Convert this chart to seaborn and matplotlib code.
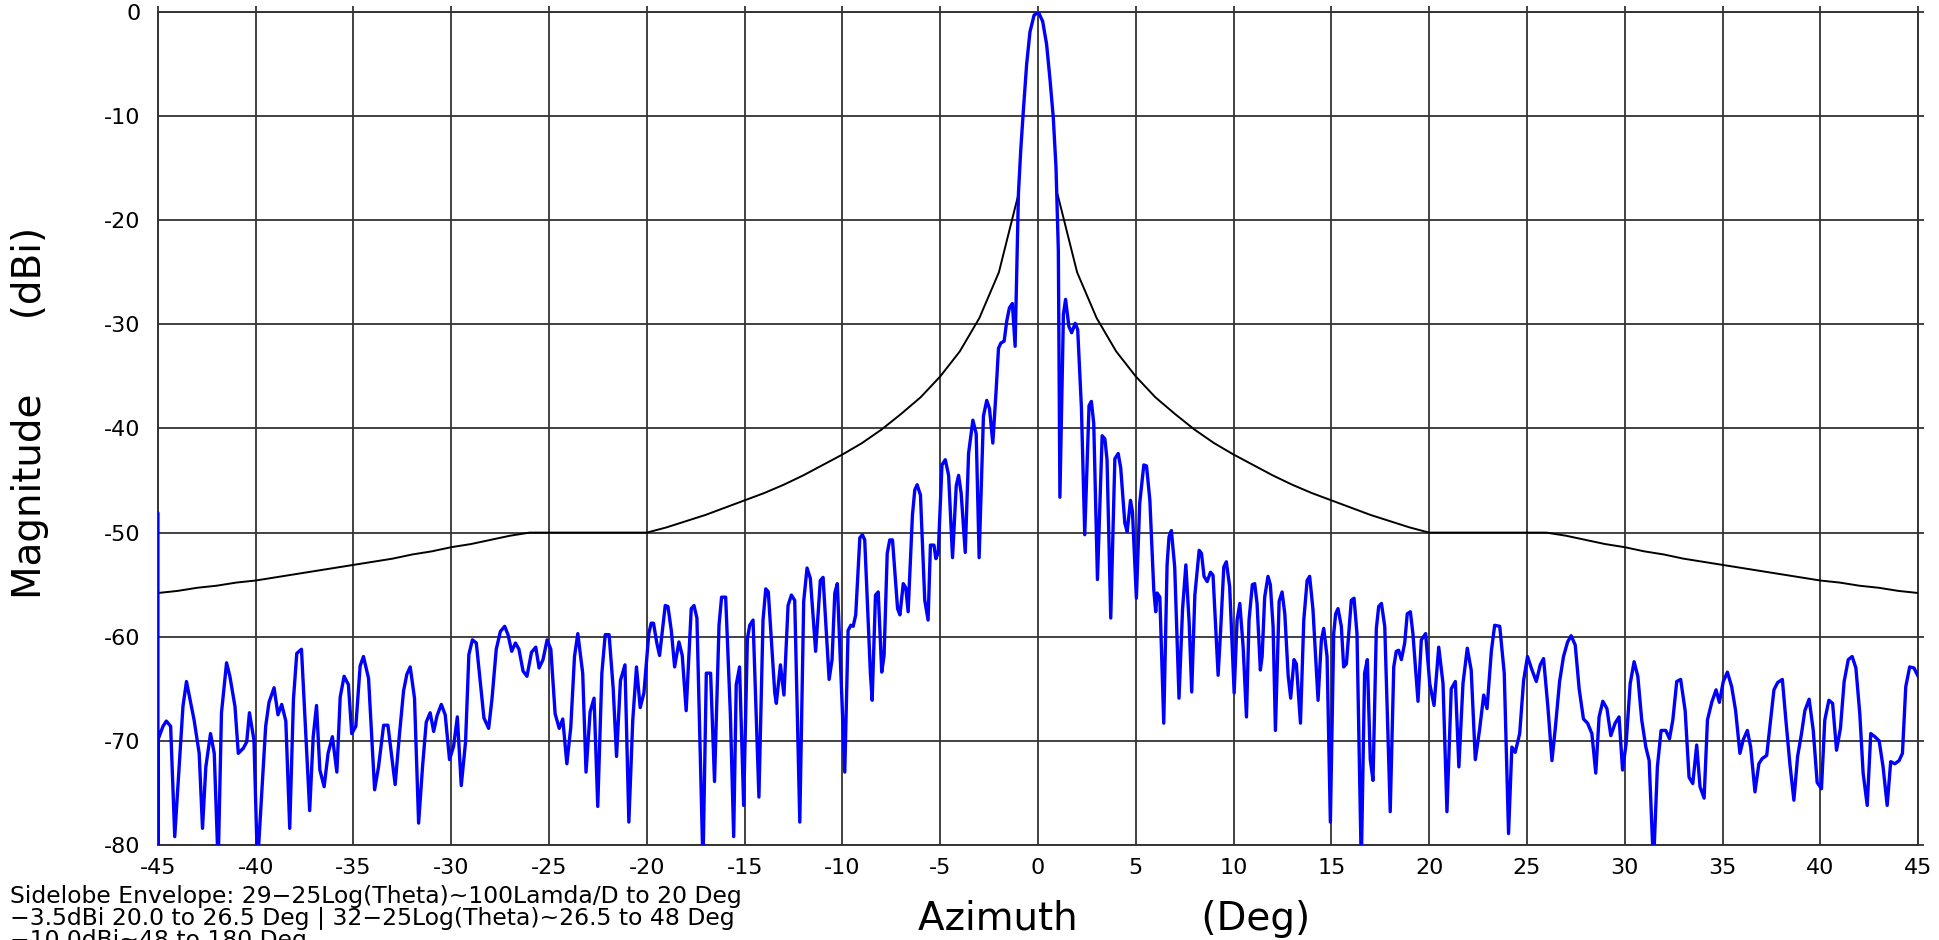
import pandas as pd
import matplotlib
matplotlib.use("Agg")
import matplotlib.pyplot as plt
import seaborn as sns

az_left = [
    -45.0, -45.0, -45.0, -44.74, -44.57, -44.35, -44.14, -43.72, -43.54, -43.15,
    -42.89, -42.72, -42.55, -42.31, -42.12, -41.92, -41.75, -41.49, -41.32, -41.06,
    -40.89, -40.63, -40.46, -40.32, -40.09, -39.91,
    -39.49, -39.32, -39.06, -38.86, -38.67, -38.46, -38.26, -38.07, -37.90, -37.66,
    -37.44, -37.24, -37.06, -36.89, -36.72, -36.50, -36.30, -36.08, -35.85, -35.68,
    -35.48, -35.26, -35.09, -34.88,
    -34.66, -34.49, -34.23, -33.92, -33.72, -33.46, -33.24, -32.87, -32.66, -32.44,
    -32.27, -32.10, -31.88, -31.67, -31.47, -31.28, -31.08, -30.90, -30.73, -30.51,
    -30.31, -30.09,
    -29.88, -29.69, -29.49, -29.27, -29.10, -28.92, -28.72, -28.33, -28.09, -27.92,
    -27.70, -27.49, -27.27, -27.10, -26.91, -26.72, -26.54, -26.33, -26.13, -25.90,
    -25.68, -25.51, -25.31, -25.10, -24.91,
    -24.69, -24.48, -24.30, -24.09, -23.89, -23.70, -23.53, -23.28, -23.11, -22.90,
    -22.70, -22.51, -22.30, -22.13, -21.93, -21.72, -21.55, -21.35, -21.12, -20.92,
    -20.72, -20.53, -20.34, -20.15,
    -19.90, -19.78, -19.66, -19.49, -19.35, -19.06, -18.92, -18.75, -18.58, -18.36,
    -18.19, -17.99, -17.73, -17.59, -17.44, -17.13, -16.96, -16.74, -16.54, -16.31,
    -16.18, -15.97, -15.73, -15.56, -15.43, -15.26, -15.05, -14.86, -14.74, -14.57,
    -14.27, -14.06, -13.92, -13.79, -13.46, -13.38, -13.17, -12.99, -12.78, -12.61,
    -12.44, -12.18, -11.98, -11.81, -11.64, -11.37, -11.13, -10.99, -10.68, -10.53,
    -10.39, -10.26, -9.88, -9.71, -9.57, -9.45, -9.32, -9.11, -8.98, -8.86,
    -8.57, -8.48, -8.31, -8.17, -7.99, -7.87, -7.71, -7.58, -7.44, -7.18,
    -7.06, -6.89, -6.76, -6.64, -6.42, -6.30, -6.18, -6.01, -5.79, -5.62,
    -5.50, -5.32, -5.22, -5.10,
]
mag_left = [
    -48.1, -82.0, -69.9, -68.6, -68.1, -68.6, -79.2, -66.7, -64.3, -68.0,
    -71.2, -78.4, -72.5, -69.3, -71.2, -82.0, -67.3, -62.5, -63.8, -66.7,
    -71.2, -70.7, -70.1, -67.3, -69.9, -82.0,
    -68.6, -66.3, -64.9, -67.5, -66.5, -68.1, -78.4, -66.0, -61.6, -61.2,
    -69.3, -76.7, -69.6, -66.6, -72.8, -74.4, -71.2, -69.6, -73.0, -65.8,
    -63.8, -64.6, -69.3, -68.6,
    -62.8, -61.9, -64.0, -74.7, -72.5, -68.5, -68.5, -74.2, -69.6, -65.2,
    -63.6, -62.9, -65.9, -77.9, -72.5, -68.2, -67.3, -69.1, -67.6, -66.5,
    -67.5, -71.8,
    -70.5, -67.7, -74.3, -70.1, -61.7, -60.3, -60.6, -67.8, -68.8, -66.0,
    -61.2, -59.5, -59.0, -59.8, -61.4, -60.6, -61.2, -63.3, -63.8, -61.5,
    -61.0, -63.0, -62.2, -60.3, -61.2,
    -67.4, -68.8, -67.9, -72.2, -68.7, -61.9, -59.7, -63.5, -73.0, -67.2,
    -65.9, -76.3, -63.5, -59.8, -59.8, -65.0, -71.5, -64.2, -62.7, -77.8,
    -68.0, -62.9, -66.8, -65.4,
    -59.7, -58.7, -58.7, -60.6, -61.8, -57.0, -57.1, -59.4, -62.9, -60.5,
    -61.8, -67.1, -57.3, -57.0, -58.2, -82.0, -63.5, -63.5, -73.9, -58.9,
    -56.2, -56.2, -67.4, -79.2, -64.6, -62.9, -76.2, -60.2, -58.9, -58.4,
    -75.4, -58.4, -55.4, -55.7, -65.4, -66.4, -62.7, -65.6, -57.0, -56.0,
    -56.5, -77.8, -56.6, -53.4, -54.4, -61.4, -54.6, -54.3, -64.1, -62.2,
    -55.8, -54.9, -73.0, -59.4, -58.9, -59.0, -57.9, -50.5, -50.2, -50.7,
    -63.5, -66.1, -56.0, -55.7, -63.4, -61.8, -52.0, -50.7, -50.7, -57.3,
    -57.9, -54.9, -55.3, -57.6, -48.3, -45.9, -45.4, -46.4, -56.5, -58.4,
    -51.2, -51.2, -52.5, -51.9,
]

az_main = [
    -4.91, -4.74, -4.57, -4.37, -4.18, -4.06, -3.93, -3.72, -3.55, -3.33,
    -3.16, -3.01, -2.79, -2.62, -2.48, -2.31, -2.14, -2.02, -1.90, -1.73,
    -1.60, -1.46, -1.31, -1.17, -1.00, -0.88, -0.75, -0.58, -0.41, -0.20,
    0.02, 0.24, 0.44, 0.61, 0.78, 0.92, 1.04, 1.12, 1.30, 1.41,
    1.58, 1.72, 1.90, 2.03, 2.22, 2.39, 2.61, 2.73, 2.85, 3.04,
]
mag_main = [
    -43.5, -43.0, -44.5, -52.4, -45.5, -44.5, -46.2, -51.9, -42.4, -39.2,
    -40.5, -52.4, -38.8, -37.3, -38.1, -41.4, -36.3, -32.3, -31.8, -31.6,
    -29.7, -28.4, -28.0, -32.1, -17.4, -13.2, -9.5, -5.0, -1.9, -0.3,
    0.0, -0.9, -3.1, -6.4, -10.1, -14.9, -22.9, -46.6, -29.0, -27.6,
    -30.2, -30.8, -29.9, -30.5, -38.0, -50.2, -37.8, -37.4, -39.5, -54.5,
]

az_right = [
    3.28, 3.42, 3.53, 3.72, 3.93, 4.10, 4.23, 4.44, 4.56, 4.73,
    4.83, 5.03, 5.20, 5.41, 5.55, 5.72, 5.92, 6.02, 6.09, 6.23,
    6.43, 6.60, 6.70, 6.82, 6.99, 7.21, 7.39, 7.56, 7.73, 7.86,
    8.02, 8.24, 8.36, 8.49, 8.65, 8.82, 8.95, 9.21, 9.33, 9.50,
    9.63, 9.80, 10.03, 10.18, 10.32, 10.49, 10.66, 10.79, 10.96, 11.08,
    11.20, 11.37, 11.46, 11.59, 11.76, 11.88, 12.02, 12.14, 12.33, 12.48,
    12.62, 12.79, 12.92, 13.09, 13.21, 13.42, 13.59, 13.76, 13.89, 14.06,
    14.32, 14.49, 14.61, 14.78, 14.95, 15.12, 15.22, 15.34, 15.51, 15.63,
    15.77, 15.94, 16.02, 16.16, 16.31, 16.53, 16.70, 16.84, 16.99, 17.13,
    17.30, 17.42, 17.56, 17.73, 18.01, 18.19, 18.32, 18.44, 18.58, 18.75,
    18.88, 19.04, 19.17, 19.43, 19.60, 19.82, 20.03, 20.25, 20.49, 20.71,
    20.91, 21.13, 21.34, 21.52, 21.73, 21.95, 22.15, 22.36, 22.58, 22.79,
    22.96, 23.18, 23.35, 23.61, 23.84, 24.06,
    24.23, 24.40, 24.63, 24.83, 25.03, 25.26, 25.48, 25.68, 25.85, 26.07,
    26.28, 26.45, 26.67, 26.87, 27.08, 27.26, 27.47, 27.67, 27.89, 28.10,
    28.32, 28.52, 28.69, 28.88, 29.09, 29.29, 29.51, 29.71, 29.89, 30.07,
    30.28, 30.48, 30.67, 30.87, 31.08, 31.25, 31.47, 31.67, 31.86, 32.10,
    32.29, 32.46, 32.66, 32.86, 33.09, 33.29, 33.48, 33.68, 33.85, 34.06,
    34.23, 34.45, 34.67, 34.84, 35.04, 35.25, 35.47, 35.67, 35.89, 36.06,
    36.27, 36.44, 36.66, 36.86, 37.03, 37.26, 37.43, 37.63, 37.82, 38.06,
    38.24, 38.45, 38.65, 38.84, 39.04, 39.21, 39.43, 39.64, 39.84, 40.06,
    40.23, 40.44, 40.63, 40.83, 41.03, 41.22, 41.43, 41.63, 41.82, 42.02,
    42.19, 42.40, 42.58, 42.79, 43.01, 43.21, 43.42, 43.60, 43.81, 44.03,
    44.20, 44.37, 44.57, 44.79, 45.00,
]
mag_right = [
    -40.7, -41.0, -43.0, -58.2, -42.9, -42.4, -43.8, -49.1, -49.9, -46.9,
    -48.0, -56.3, -47.2, -43.5, -43.6, -46.9, -55.5, -57.6, -55.8, -56.2,
    -68.3, -53.1, -50.4, -49.8, -53.3, -65.9, -57.4, -53.1, -58.7, -65.3,
    -56.0, -51.7, -52.0, -54.2, -54.7, -53.8, -54.1, -63.7, -59.7, -53.3,
    -52.8, -55.2, -65.4, -58.4, -56.8, -61.0, -67.7, -58.4, -55.0, -54.9,
    -56.8, -63.2, -61.9, -56.2, -54.2, -55.0, -59.0, -69.0, -56.6, -55.7,
    -57.8, -63.7, -65.9, -62.2, -62.6, -68.3, -58.4, -54.6, -54.2, -57.4,
    -66.1, -60.3, -59.2, -61.9, -77.8, -59.7, -57.8, -57.3, -59.0, -62.9,
    -62.6, -58.4, -56.5, -56.3, -59.7, -82.0, -63.5, -62.2, -71.8, -73.8,
    -59.2, -57.1, -56.8, -59.0, -76.8, -62.9, -61.4, -61.3, -62.2, -60.6,
    -57.8, -57.6, -59.7, -66.2, -60.3, -59.7, -64.5, -66.6, -61.0, -64.5,
    -76.8, -65.0, -64.3, -72.5, -64.5, -61.1, -63.2, -71.8, -68.9, -65.6,
    -66.9, -61.4, -58.9, -59.0, -63.5, -78.9,
    -70.6, -71.1, -69.3, -64.2, -61.9, -63.2, -64.3, -62.7, -62.1, -66.7,
    -71.9, -68.8, -64.3, -61.9, -60.5, -59.9, -60.8, -65.0, -67.9, -68.3,
    -69.3, -73.1, -67.7, -66.2, -66.9, -69.5, -68.3, -67.7, -72.8, -70.3,
    -64.5, -62.4, -63.8, -68.0, -70.6, -71.9, -82.0, -72.5, -69.0, -69.0,
    -69.8, -68.0, -64.3, -64.1, -67.1, -73.5, -74.1, -70.4, -74.4, -75.5,
    -68.0, -66.3, -65.1, -66.3, -64.3, -63.4, -64.8, -67.1, -71.2, -69.9,
    -69.0, -70.6, -74.9, -72.2, -71.7, -71.4, -68.5, -65.1, -64.4, -64.1,
    -68.0, -72.3, -75.7, -71.5, -69.3, -67.1, -66.0, -69.0, -74.0, -74.6,
    -68.0, -66.1, -66.4, -70.9, -68.8, -64.3, -62.2, -61.9, -63.0, -67.4,
    -73.1, -76.2, -69.3, -69.6, -70.0, -72.5, -76.2, -72.0, -72.2, -71.9,
    -71.2, -64.8, -62.9, -63.0, -63.8,
]

# Sidelobe envelope (relative to peak), same on both sides of boresight
env_theta = list(range(1, 46))
env_db = [
    -17.5, -25.0, -29.4, -32.6, -35.0, -37.0, -38.6, -40.1, -41.4, -42.5,
    -43.5, -44.5, -45.4, -46.2, -46.9, -47.6, -48.3, -48.9, -49.5, -50.0,
    -50.0, -50.0, -50.0, -50.0, -50.0, -50.0, -50.3, -50.7, -51.1, -51.4,
    -51.8, -52.1, -52.5, -52.8, -53.1, -53.4, -53.7, -54.0, -54.3, -54.6,
    -54.8, -55.1, -55.3, -55.6, -55.8,
]

note_lines = [
    "Sidelobe Envelope: 29\u221225Log(Theta)~100Lamda/D to 20 Deg",
    "\u22123.5dBi 20.0 to 26.5 Deg | 32\u221225Log(Theta)~26.5 to 48 Deg",
    "\u221210.0dBi~48 to 180 Deg",
]

pattern = pd.DataFrame({"az": az_left + az_main + az_right,
                        "mag": mag_left + mag_main + mag_right})
env_pos = pd.DataFrame({"az": env_theta, "mag": env_db})
env_neg = pd.DataFrame({"az": [-t for t in env_theta], "mag": env_db})

sns.set_theme(style="white")
plt.rcParams["font.family"] = ["DejaVu Sans"]
plt.rcParams["axes.unicode_minus"] = False

fig = plt.figure(figsize=(19.4, 9.4), dpi=100)
ax = fig.add_axes([0.0814, 0.1011, 0.9073, 0.8861])

for env in (env_neg, env_pos):
    sns.lineplot(data=env, x="az", y="mag", ax=ax, color="black", lw=1.4,
                 estimator=None, sort=False, zorder=3)
sns.lineplot(data=pattern, x="az", y="mag", ax=ax, color="#0000ff", lw=2.4,
             estimator=None, sort=False, zorder=4)

ax.set_xlim(-45, 45)
ax.set_ylim(-80, 0)
ax.set_xticks(range(-45, 46, 5))
ax.set_yticks(range(-80, 1, 10))
ax.set_axisbelow(True)
ax.grid(True, color="#333333", lw=1.3)
for s in ax.spines.values():
    s.set_visible(True)
    s.set_color("#333333")
    s.set_linewidth(1.4)

ax.tick_params(direction="out", length=4.5, width=1.3, color="#333333",
               top=True, right=True, labelsize=16, labelcolor="black")
ax.tick_params(axis="y", pad=8)
ax.tick_params(axis="x", pad=5)

ax.set_xlabel("Azimuth          (Deg)", fontsize=28, color="black")
ax.xaxis.set_label_coords(0.543, -0.066)
ax.set_ylabel("Magnitude      (dBi)", fontsize=28, color="black")
ax.yaxis.set_label_coords(-0.062, 0.519)

fig.text(0.005, 0.0585, "\n".join(note_lines), ha="left", va="top",
         fontsize=16.9, linespacing=0.95, color="black")

fig.savefig("out.png", dpi=100)
